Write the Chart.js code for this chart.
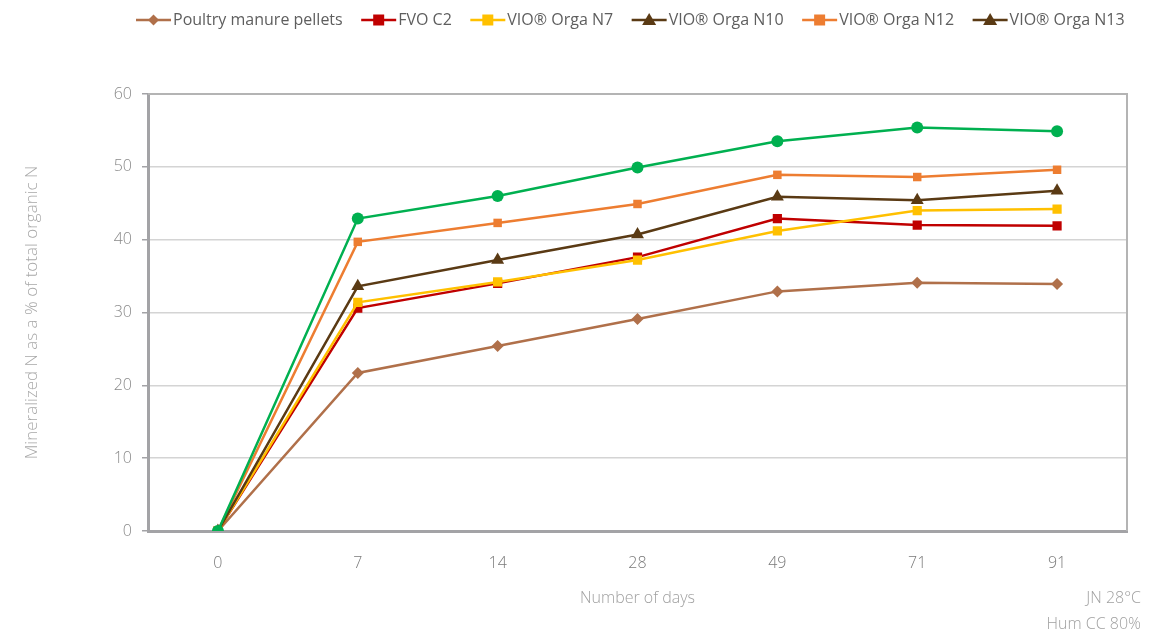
<!DOCTYPE html>
<html>
<head>
<meta charset="utf-8">
<script src="https://cdn.jsdelivr.net/npm/chart.js@4.4.1/dist/chart.umd.min.js"></script>
<style>
  html, body { margin: 0; padding: 0; background: #ffffff; }
  #wrap { width: 1166px; height: 637px; position: relative; }
</style>
</head>
<body>
<div id="wrap"><canvas id="mineralChart" width="1166" height="637"></canvas></div>
<script>
// Days of incubation (category axis)
const days = ['0', '7', '14', '28', '49', '71', '91'];

// Mineralized N as % of total organic N
const poultryPellets = [0, 21.7, 25.4, 29.1, 32.9, 34.1, 33.9];
const fvoC2 = [0, 30.6, 34.0, 37.6, 42.9, 42.0, 41.9];
const orgaN7 = [0, 31.4, 34.2, 37.2, 41.2, 44.0, 44.2];
const orgaN10 = [0, 42.9, 46.0, 49.9, 53.5, 55.4, 54.9];
const orgaN12 = [0, 39.7, 42.3, 44.9, 48.9, 48.6, 49.6];
const orgaN13 = [0, 33.6, 37.2, 40.7, 45.9, 45.4, 46.7];

const yTicks = [0, 10, 20, 30, 40, 50, 60];

const fontFamily = "'Open Sans', 'Liberation Sans', sans-serif";

// series: [label, data, colour, point style, radius, legend colour, legend style]
const series = [
    ['Poultry manure pellets', poultryPellets, '#b0704a', 'rectRot', 6, '#b0704a', 'rectRot'],
    ['FVO C2', fvoC2, '#c00000', 'rect', 6.5, '#c00000', 'rect'],
    ['VIO\u00ae Orga N7', orgaN7, '#ffc000', 'rect', 6.5, '#ffc000', 'rect'],
    ['VIO\u00ae Orga N10', orgaN10, '#00b050', 'circle', 6, '#5a3a14', 'triangle'],
    ['VIO\u00ae Orga N12', orgaN12, '#ed7d31', 'rect', 6, '#ed7d31', 'rect'],
    ['VIO\u00ae Orga N13', orgaN13, '#5a3a14', 'triangle', 7.5, '#5a3a14', 'triangle']
];
const drawOrder = [5, 4, 3, 0, 2, 1];

// small helper to draw a marker on a 2d context
function drawMarker(ctx, style, x, y, r, color) {
    ctx.fillStyle = color;
    ctx.beginPath();
    if (style === 'rect') {
        ctx.rect(x - r, y - r, r * 2, r * 2);
    } else if (style === 'rectRot') {
        ctx.moveTo(x, y - r); ctx.lineTo(x + r, y); ctx.lineTo(x, y + r); ctx.lineTo(x - r, y);
        ctx.closePath();
    } else if (style === 'triangle') {
        ctx.moveTo(x, y - r); ctx.lineTo(x + r, y + r * 0.7); ctx.lineTo(x - r, y + r * 0.7);
        ctx.closePath();
    } else {
        ctx.arc(x, y, r, 0, Math.PI * 2);
    }
    ctx.fill();
}

// legend drawn by hand: line with the marker in the middle, then text
const legendPlugin = {
    id: 'lineLegend',
    afterDraw(chart) {
        const ctx = chart.ctx;
        ctx.save();
        ctx.font = '16px ' + fontFamily;
        ctx.textBaseline = 'middle';
        let x = 136;
        const y = 20;
        series.forEach(s => {
            ctx.strokeStyle = s[5];
            ctx.lineWidth = 2.5;
            ctx.beginPath();
            ctx.moveTo(x, y); ctx.lineTo(x + 35, y);
            ctx.stroke();
            drawMarker(ctx, s[6], x + 17.5, y, s[6] === 'triangle' ? 7 : 5.5, s[5]);
            ctx.fillStyle = '#5e5e5e';
            ctx.textAlign = 'left';
            ctx.fillText(s[0], x + 37, y);
            x += 37 + ctx.measureText(s[0]).width + 18.5;
        });
        ctx.restore();
    }
};

// top and right frame lines plus the conditions note
const framePlugin = {
    id: 'frame',
    beforeDatasetsDraw(chart) {
        const { ctx, chartArea } = chart;
        ctx.save();
        ctx.strokeStyle = '#b4b4b4';
        ctx.lineWidth = 2;
        ctx.beginPath();
        ctx.moveTo(chartArea.left, chartArea.top);
        ctx.lineTo(chartArea.right, chartArea.top);
        ctx.lineTo(chartArea.right, chartArea.bottom);
        ctx.stroke();
        ctx.restore();
    },
    afterDraw(chart) {
        const ctx = chart.ctx;
        ctx.save();
        ctx.font = '300 16px ' + fontFamily;
        ctx.fillStyle = '#a0a0a0';
        ctx.textAlign = 'right';
        ctx.textBaseline = 'middle';
        ctx.fillText('JN 28\u00b0C', 1141, 598);
        ctx.fillText('Hum CC 80%', 1141, 624);
        ctx.restore();
    }
};

const ctx = document.getElementById('mineralChart').getContext('2d');
new Chart(ctx, {
    type: 'line',
    data: {
        labels: days,
        datasets: series.map((s, i) => ({
            label: s[0],
            data: s[1],
            borderColor: s[2],
            backgroundColor: s[2],
            pointStyle: s[3],
            pointRadius: s[4],
            pointHoverRadius: s[4],
            pointBorderWidth: 0,
            borderWidth: 2.5,
            tension: 0,
            order: drawOrder[i]
        }))
    },
    options: {
        responsive: false,
        animation: false,
        layout: { padding: { top: 94, right: 39, left: 0, bottom: 0 } },
        plugins: {
            legend: { display: false },
            tooltip: { enabled: false }
        },
        scales: {
            x: {
                offset: true,
                grid: { display: false, drawTicks: false, offset: true },
                border: { display: true, color: '#a3a3a6', width: 3 },
                ticks: { color: '#7a7a7a', padding: 23, font: { family: fontFamily, size: 16, weight: 300 } },
                title: {
                    display: true,
                    text: 'Number of days',
                    color: '#a0a0a0',
                    font: { family: fontFamily, size: 16, weight: 300 },
                    padding: { top: 0, bottom: 29 }
                },
                afterFit: scale => { scale.height = 106; }
            },
            y: {
                min: 0,
                max: 60,
                afterBuildTicks: scale => { scale.ticks = yTicks.map(v => ({ value: v })); },
                grid: {
                    color: ctx2 => ctx2.tick && ctx2.tick.value === 60 ? '#b4b4b4' : '#d4d4d4',
                    lineWidth: 1.5,
                    tickColor: '#a3a3a6',
                    tickLength: 6
                },
                border: { display: true, color: '#a3a3a6', width: 3 },
                ticks: { color: '#8a8a8a', padding: 10, font: { family: fontFamily, size: 16, weight: 300 } },
                title: {
                    display: true,
                    text: 'Mineralized N as a % of total organic N',
                    color: '#a8a8a8',
                    font: { family: fontFamily, size: 17, weight: 300 },
                    padding: { top: 22, bottom: 0 }
                },
                afterFit: scale => { scale.width = 148; }
            }
        }
    },
    plugins: [framePlugin, legendPlugin]
});
</script>
</body>
</html>
